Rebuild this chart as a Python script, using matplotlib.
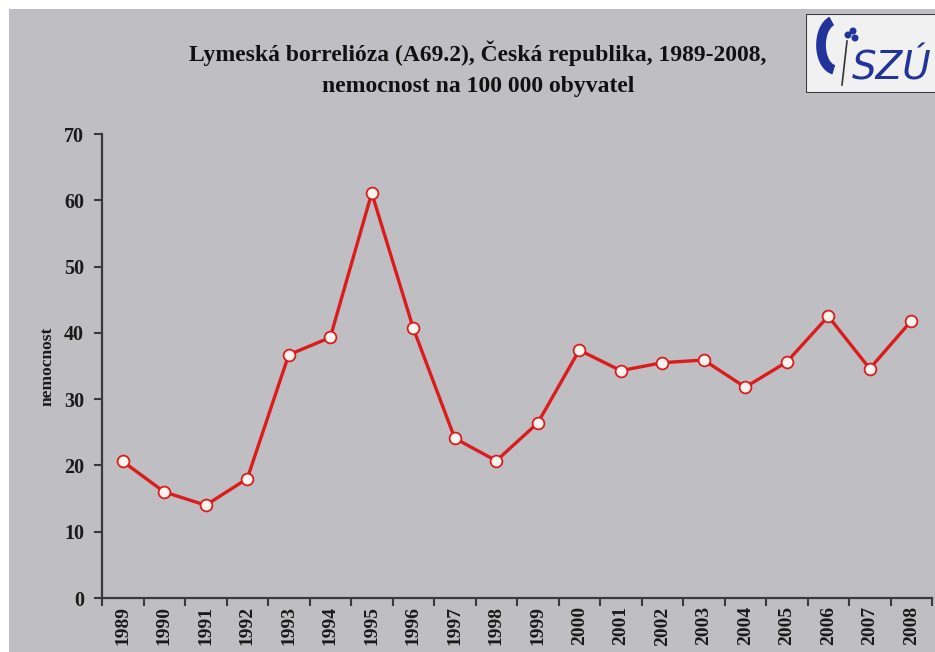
import matplotlib
matplotlib.use("Agg")
import matplotlib.pyplot as plt
from matplotlib.patches import Rectangle, Arc, Circle
from matplotlib.ticker import FixedLocator

years = ["1989", "1990", "1991", "1992", "1993", "1994", "1995", "1996", "1997", "1998",
         "1999", "2000", "2001", "2002", "2003", "2004", "2005", "2006", "2007", "2008"]
incidence = [20.6, 16.0, 14.0, 18.0, 36.7, 39.3, 61.1, 40.7, 24.1, 20.7,
             26.4, 37.4, 34.3, 35.5, 35.9, 31.8, 35.6, 42.5, 34.6, 41.8]
y_ticks = [0, 10, 20, 30, 40, 50, 60, 70]

title = "Lymeská borrelióza (A69.2), Česká republika, 1989-2008,\nnemocnost na 100 000 obyvatel"
ylabel = "nemocnost"

W, H = 935, 652
fig = plt.figure(figsize=(W / 100, H / 100), dpi=100)
fig.patch.set_facecolor("white")
bg = "#bfbfc3"
fig.patches.append(Rectangle((9 / W, 0), 1, 1 - 9 / H, transform=fig.transFigure,
                             facecolor=bg, edgecolor="none", zorder=-10))

serif = ["Liberation Serif", "DejaVu Serif"]

ax = fig.add_axes([102 / W, 1 - 598 / H, (932 - 102) / W, (598 - 134) / H])
ax.set_facecolor("none")
x = list(range(len(years)))
ax.plot(x, incidence, color="#dc1c1c", lw=2.4, marker="o", ms=8.5,
        markerfacecolor="#fff4f0", markeredgecolor="#dc1c1c", markeredgewidth=1.3,
        zorder=3, clip_on=False)

ax.set_xlim(-0.5, len(years) - 0.5)
ax.set_ylim(0, 70)
ax.set_yticks(y_ticks)
ax.set_yticklabels([str(v) for v in y_ticks], fontfamily=serif, fontweight="bold",
                   fontsize=14.5, color="#1a1a1a")
ax.set_xticks(x)
ax.set_xticklabels(years, rotation=90, fontfamily=serif, fontweight="bold",
                   fontsize=14, color="#1a1a1a")
ax.xaxis.set_minor_locator(FixedLocator([i - 0.5 for i in range(len(years) + 1)]))
ax.tick_params(axis="x", which="major", length=0, pad=6)
ax.tick_params(axis="x", which="minor", length=6, width=1.5, color="#3a3a3a", direction="out")
ax.tick_params(axis="y", which="major", length=6, width=1.5, color="#3a3a3a", pad=7)

for s in ["top", "right"]:
    ax.spines[s].set_visible(False)
for s in ["left", "bottom"]:
    ax.spines[s].set_color("#3a3a3a")
    ax.spines[s].set_linewidth(1.6)

ax.set_ylabel(ylabel, fontfamily=serif, fontweight="bold", fontsize=12.5,
              color="#1a1a1a", labelpad=6)

fig.text(478 / W, 1 - 69 / H, title, ha="center", va="center", fontfamily=serif,
         fontweight="bold", fontsize=17, color="#111111", linespacing=1.6)

# logo
lax = fig.add_axes([806 / W, 1 - 93 / H, 140 / W, (93 - 14) / H])
lax.set_xlim(0, 140)
lax.set_ylim(0, 79)
lax.axis("off")
lax.add_patch(Rectangle((0, 0), 140, 79, facecolor="#f1f1f1", edgecolor="#3a3a3a", lw=1.5))
lax.add_patch(Arc((30, 48), 30, 50, theta1=100, theta2=265, color="#22339a", lw=7))
lax.plot([41, 36], [52, 8], color="#333333", lw=1.2)
for cx, cy in [(42, 58), (47, 62), (49, 55)]:
    lax.add_patch(Circle((cx, cy), 2.8, color="#22339a"))
lax.text(46, 24, "SZÚ", fontsize=28, fontstyle="italic", fontfamily=["DejaVu Sans"],
         color="#22339a", ha="left", va="center")

fig.savefig("out.png", dpi=100, facecolor=fig.get_facecolor())
